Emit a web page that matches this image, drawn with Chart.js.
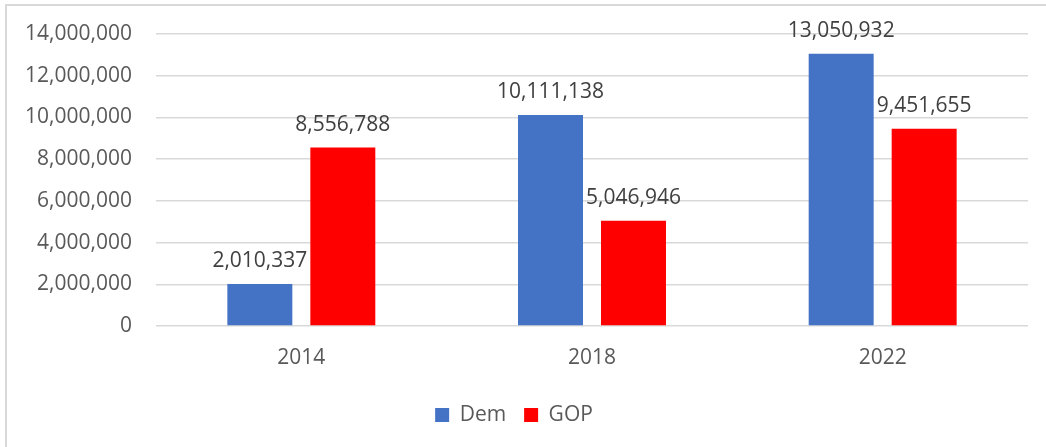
<!DOCTYPE html>
<html lang="en">
<head>
    <meta charset="UTF-8">
    <title>Votes by Party</title>
    <script src="https://cdn.jsdelivr.net/npm/chart.js"></script>
    <style>
        html, body {
            margin: 0;
            padding: 0;
            background: #ffffff;
            overflow: hidden;
        }
        .frame {
            position: absolute;
            left: 5px;
            top: 4px;
            width: 1100px;
            height: 500px;
            border-left: 2px solid #d9d9d9;
            border-top: 2px solid #d9d9d9;
        }
        .chart-box {
            position: absolute;
            left: 0;
            top: 0;
            width: 1046px;
            height: 447px;
        }
    </style>
</head>
<body>
    <div class="frame"></div>
    <div class="chart-box">
        <canvas id="votesChart"></canvas>
    </div>

    <script>
        // Election years and vote totals per party
        const years = ['2014', '2018', '2022'];
        const demVotes = [2010337, 10111138, 13050932];
        const gopVotes = [8556788, 5046946, 9451655];
        const yTicks = [0, 2000000, 4000000, 6000000, 8000000, 10000000, 12000000, 14000000];

        const fmt = (v) => Number(v).toLocaleString('en-US');
        const FONT = "'Open Sans', 'Noto Sans', sans-serif";

        // Writes each bar's value just above it
        const valueLabels = {
            id: 'valueLabels',
            afterDatasetsDraw(chart) {
                const ctx = chart.ctx;
                ctx.save();
                ctx.font = '21px ' + FONT;
                ctx.fillStyle = '#404040';
                ctx.textAlign = 'center';
                ctx.textBaseline = 'alphabetic';
                chart.data.datasets.forEach((ds, i) => {
                    chart.getDatasetMeta(i).data.forEach((bar, j) => {
                        ctx.fillText(fmt(ds.data[j]), bar.x, bar.y - 17);
                    });
                });
                ctx.restore();
            }
        };

        new Chart(document.getElementById('votesChart'), {
            type: 'bar',
            data: {
                labels: years,
                datasets: [
                    {
                        label: 'Dem',
                        data: demVotes,
                        backgroundColor: '#4472C4',
                        barPercentage: 0.783,
                        categoryPercentage: 0.571
                    },
                    {
                        label: 'GOP',
                        data: gopVotes,
                        backgroundColor: '#FF0000',
                        barPercentage: 0.783,
                        categoryPercentage: 0.571
                    }
                ]
            },
            options: {
                responsive: true,
                maintainAspectRatio: false,
                animation: false,
                layout: {
                    padding: { left: 0, right: 18, top: 34, bottom: 11.5 }
                },
                scales: {
                    x: {
                        grid: { display: false, drawTicks: false },
                        border: { display: false },
                        ticks: {
                            color: '#595959',
                            font: { family: FONT, size: 21 },
                            padding: 19
                        },
                        afterFit: (scale) => { scale.height = 60.5; }
                    },
                    y: {
                        min: 0,
                        max: 14000000,
                        afterBuildTicks: (scale) => {
                            scale.ticks = yTicks.map(v => ({ value: v }));
                        },
                        grid: {
                            color: '#d9d9d9',
                            lineWidth: 1.5,
                            drawTicks: false
                        },
                        border: { display: false },
                        ticks: {
                            color: '#595959',
                            font: { family: FONT, size: 21 },
                            padding: 24,
                            callback: (v) => fmt(v)
                        },
                        afterFit: (scale) => {
                            scale.width = 156;
                            scale.paddingTop = 0;
                            scale.paddingBottom = 0;
                        }
                    }
                },
                plugins: {
                    legend: {
                        position: 'bottom',
                        labels: {
                            color: '#595959',
                            font: { family: FONT, size: 21 },
                            boxWidth: 14,
                            boxHeight: 14,
                            padding: 18
                        }
                    },
                    tooltip: { enabled: false }
                }
            },
            plugins: [valueLabels]
        });
    </script>
</body>
</html>
